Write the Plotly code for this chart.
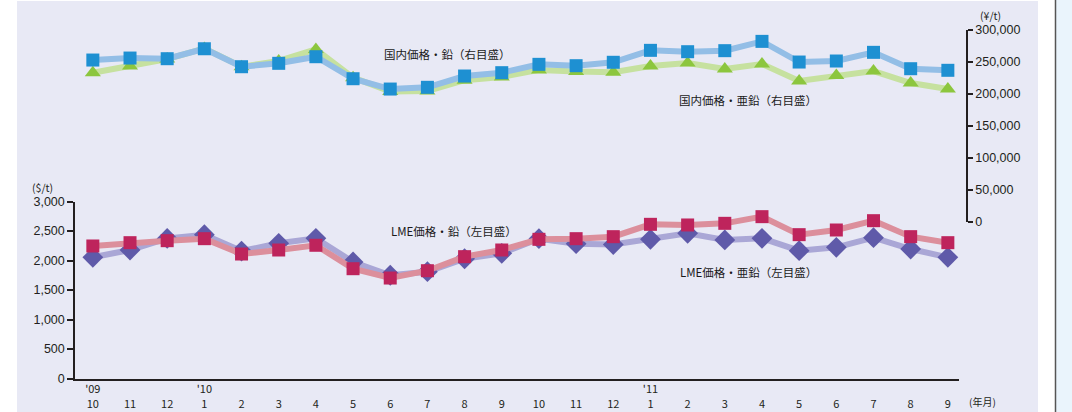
import plotly.graph_objects as go

# ---- data ----
periods = ["2009-10", "2009-11", "2009-12", "2010-01", "2010-02", "2010-03", "2010-04", "2010-05",
           "2010-06", "2010-07", "2010-08", "2010-09", "2010-10", "2010-11", "2010-12", "2011-01",
           "2011-02", "2011-03", "2011-04", "2011-05", "2011-06", "2011-07", "2011-08", "2011-09"]
tick_labels = ["'09<br>10", " <br>11", " <br>12", "'10<br>1", " <br>2", " <br>3", " <br>4", " <br>5",
               " <br>6", " <br>7", " <br>8", " <br>9", " <br>10", " <br>11", " <br>12", "'11<br>1",
               " <br>2", " <br>3", " <br>4", " <br>5", " <br>6", " <br>7", " <br>8", " <br>9"]

# domestic prices (yen/t, right axis)
domestic_lead = [252400, 255500, 254500, 270000, 242000, 247300, 257600, 223300,
                 207200, 209900, 227500, 232700, 245700, 243600, 248900, 267500,
                 265400, 267000, 281500, 249300, 250900, 264400, 238900, 236400]
domestic_zinc = [232700, 243100, 254000, 270500, 242000, 251000, 269000, 225000,
                 203500, 204000, 221000, 226000, 237000, 234500, 233500, 243000,
                 247800, 238400, 246200, 219700, 228300, 235300, 216600, 207200]

# LME prices ($/t, left axis)
lme_lead = [2246, 2302, 2336, 2370, 2110, 2178, 2258, 1861,
            1703, 1827, 2065, 2178, 2359, 2370, 2404, 2613,
            2602, 2630, 2743, 2438, 2517, 2675, 2404, 2302]
lme_zinc = [2054, 2178, 2375, 2437, 2160, 2291, 2376, 1975,
            1750, 1810, 2030, 2122, 2370, 2285, 2270, 2359,
            2461, 2348, 2376, 2166, 2224, 2387, 2195, 2054]

series_names = ["国内価格・亜鉛（右目盛）", "国内価格・鉛（右目盛）",
                "LME価格・亜鉛（左目盛）", "LME価格・鉛（左目盛）"]

W, H = 1072, 412
def px(x):
    return x / W
def py(y):
    return 1 - y / H

TXT = "#231f20"
JP = "Noto Sans CJK JP"
NUM = "Liberation Sans, Arial, sans-serif"

fig = go.Figure()

def add(yvals, name, axis, lc, mc, sym, msize):
    fig.add_trace(go.Scatter(
        x=periods, y=yvals, name=name, yaxis=axis, mode="lines+markers",
        line=dict(color=lc, width=6),
        marker=dict(symbol=sym, size=msize, color=mc, line=dict(width=0)),
        showlegend=False, cliponaxis=False))

add(domestic_zinc, series_names[0], "y2", "#c6e19f", "#8cc63e", "triangle-up", 14)
add(domestic_lead, series_names[1], "y2", "#93bee6", "#1e90d2", "square", 13)
add(lme_zinc, series_names[2], "y", "#aaa7d6", "#5f5aa9", "diamond", 16)
add(lme_lead, series_names[3], "y", "#dc8f9c", "#be245c", "square", 13)

shapes = [
    dict(type="rect", xref="paper", yref="paper", x0=px(17), x1=px(1038), y0=py(412), y1=py(1),
         fillcolor="#e8e9f5", line=dict(width=0), layer="below"),
    dict(type="rect", xref="paper", yref="paper", x0=px(1055.5), x1=1, y0=0, y1=1,
         fillcolor="#eaf4fc", line=dict(width=0), layer="below"),
    dict(type="line", xref="paper", yref="paper", x0=px(1055.5), x1=px(1055.5), y0=0, y1=1,
         line=dict(color="#555555", width=1.5), layer="below"),
]

def ann(text, x, y, family, size, color="#1a1a1a"):
    return dict(text=text, x=px(x), y=py(y), xref="paper", yref="paper", showarrow=False,
                xanchor="center", yanchor="middle", font=dict(family=family, size=size, color=color))

annotations = [
    ann(series_names[1], 447, 54, JP, 11.5),
    ann(series_names[0], 748, 100, JP, 11.5),
    ann(series_names[3], 454, 231, JP, 11.5),
    ann(series_names[2], 748, 272, JP, 11.5),
    ann("($/t)", 42, 187, JP, 10.5, TXT),
    ann("(¥/t)", 990, 16, JP, 10.5, TXT),
    ann("(年月)", 982, 401, JP, 10, TXT),
]

fig.update_layout(
    width=W, height=H, autosize=False,
    margin=dict(l=0, r=0, t=0, b=0),
    paper_bgcolor="white", plot_bgcolor="rgba(0,0,0,0)",
    shapes=shapes, annotations=annotations,
    xaxis=dict(domain=[px(75), px(959)], anchor="y", type="category", automargin=False,
               range=[-0.48, 23.3], tickvals=periods, ticktext=tick_labels,
               showline=True, linecolor=TXT, linewidth=1.5, showgrid=False, zeroline=False,
               ticks="", tickfont=dict(family=JP, size=11, color=TXT)),
    yaxis=dict(domain=[py(378.5), py(201.5)], range=[0, 3000], automargin=False,
               tickvals=[0, 500, 1000, 1500, 2000, 2500, 3000],
               tickformat=",d", showline=True, linecolor=TXT, linewidth=1.5, ticks="outside",
               ticklen=6, tickcolor=TXT, tickwidth=1.5, showgrid=False, zeroline=False,
               tickfont=dict(family=NUM, size=12.5, color=TXT)),
    yaxis2=dict(domain=[py(222), py(29.5)], range=[0, 300000], anchor="free", position=px(967),
                side="right", automargin=False,
                tickvals=[0, 50000, 100000, 150000, 200000, 250000, 300000], tickformat=",d",
                showline=True, linecolor=TXT, linewidth=1.5, ticks="outside", ticklen=5,
                tickcolor=TXT, tickwidth=1.5, showgrid=False, zeroline=False,
                tickfont=dict(family=NUM, size=12.5, color=TXT)),
)

fig.write_html("out.html", config=dict(displayModeBar=False),
               post_script="document.body.style.margin='0';")
